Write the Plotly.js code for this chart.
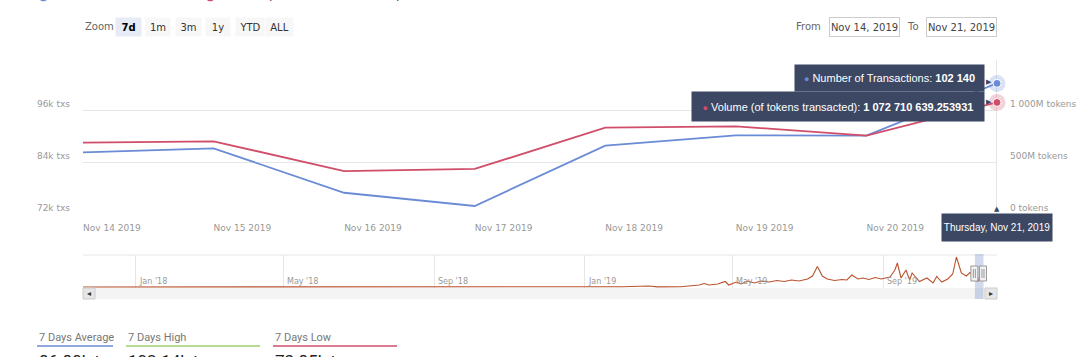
<!DOCTYPE html>
<html><head><meta charset="utf-8">
<script src="https://cdn.plot.ly/plotly-3.0.1.min.js"></script>
<style>html,body{margin:0;padding:0;background:#fff}#chart{width:1092px;height:357px}</style>
</head><body><div id="chart"></div>
<script>
// ---------- data ----------
const dates = ['2019-11-14','2019-11-15','2019-11-16','2019-11-17','2019-11-18','2019-11-19','2019-11-20','2019-11-21'];
const transactions = [86240, 87160, 76900, 73850, 87760, 90160, 90100, 102140];
const volume = [685.6e6, 699.0e6, 413.0e6, 433.0e6, 830.0e6, 843.0e6, 753.0e6, 1072710639.253931];
const txTicks = [72000, 84000, 96000];
const txTickLabels = ['72k txs', '84k txs', '96k txs'];
const volTicks = [0, 500e6, 1000e6];
const volTickLabels = ['0 tokens', '500M tokens', '1 000M tokens'];
const xTickLabels = ['Nov 14 2019','Nov 15 2019','Nov 16 2019','Nov 17 2019','Nov 18 2019','Nov 19 2019','Nov 20 2019'];
// navigator history (volume, millions of tokens)
const navDates = ['2017-11-19','2017-12-15','2018-01-10','2018-02-05','2018-03-01','2018-04-01','2018-05-01','2018-06-01','2018-07-01','2018-08-01','2018-09-01','2018-10-01','2018-11-01','2018-12-01','2019-01-01','2019-02-01','2019-02-22','2019-03-01','2019-03-20','2019-04-04','2019-04-08','2019-04-12','2019-04-19','2019-04-25','2019-04-28','2019-05-04','2019-05-08','2019-05-13','2019-05-19','2019-05-24','2019-05-31','2019-06-06','2019-06-12','2019-06-18','2019-06-24','2019-07-01','2019-07-05','2019-07-09','2019-07-13','2019-07-17','2019-07-23','2019-07-29','2019-08-02','2019-08-06','2019-08-11','2019-08-15','2019-08-20','2019-08-25','2019-08-30','2019-09-03','2019-09-06','2019-09-10','2019-09-12','2019-09-15','2019-09-19','2019-09-22','2019-09-24','2019-09-30','2019-10-06','2019-10-11','2019-10-14','2019-10-18','2019-10-23','2019-10-27','2019-10-30','2019-11-03','2019-11-07','2019-11-10'];
const navVolumeM = [5,8,12,6,10,9,14,7,11,8,12,9,10,13,9,15,70,12,20,140,245,140,210,385,140,350,210,420,280,420,350,455,385,490,420,560,770,1435,770,560,455,525,490,840,560,630,525,665,560,630,700,1190,1680,630,1190,490,980,385,630,280,735,350,560,910,2100,980,770,1015];
const navTickVals = ['2018-01-01','2018-05-01','2018-09-01','2019-01-01','2019-05-01','2019-09-01'];
const navTickLabels = ["Jan '18","May '18","Sep '18","Jan '19","May '19","Sep '19"];
const rangeButtons = ['7d','1m','3m','1y','YTD','ALL'];
const statLabels = ['7 Days Average','7 Days High','7 Days Low'];
const statValues = ['86.80k txs','102.14k txs','73.85k txs'];
const seriesNames = ['Number of Transactions','Volume (of tokens transacted)'];

// ---------- layout helpers ----------
const W = 1092, H = 357;
const PX = x => x / W;
const PY = y => (H - y) / H;
const BLUE = '#6b8bd6', RED = '#d04e6a', NAVY = '#3b4763', NAVC = '#b9532f';
const FONT = 'DejaVu Sans';
const last = dates.length - 1;

const traces = [
  {x: dates, y: transactions, type: 'scatter', mode: 'lines', line: {color: BLUE, width: 1.8}, xaxis: 'x', yaxis: 'y', hoverinfo: 'skip', name: seriesNames[0]},
  {x: dates, y: volume, type: 'scatter', mode: 'lines', line: {color: RED, width: 1.8}, xaxis: 'x', yaxis: 'y2', hoverinfo: 'skip', name: seriesNames[1]},
  {x: [dates[last]], y: [transactions[last]], type: 'scatter', mode: 'markers', marker: {size: 17, color: 'rgba(107,139,214,0.25)'}, xaxis: 'x', yaxis: 'y', hoverinfo: 'skip', cliponaxis: false},
  {x: [dates[last]], y: [transactions[last]], type: 'scatter', mode: 'markers', marker: {size: 8, color: BLUE, line: {color: '#fff', width: 1}}, xaxis: 'x', yaxis: 'y', hoverinfo: 'skip', cliponaxis: false},
  {x: [dates[last]], y: [volume[last]], type: 'scatter', mode: 'markers', marker: {size: 17, color: 'rgba(208,78,106,0.25)'}, xaxis: 'x', yaxis: 'y2', hoverinfo: 'skip', cliponaxis: false},
  {x: [dates[last]], y: [volume[last]], type: 'scatter', mode: 'markers', marker: {size: 8, color: RED, line: {color: '#fff', width: 1}}, xaxis: 'x', yaxis: 'y2', hoverinfo: 'skip', cliponaxis: false},
  {x: navDates.concat(dates), y: navVolumeM.map(v => v * 1e6).concat(volume), type: 'scatter', mode: 'lines', line: {color: NAVC, width: 1.1}, xaxis: 'x2', yaxis: 'y3', hoverinfo: 'skip'}
];

const tickFont = {family: FONT, size: 9, color: '#999'};
const annotations = [];

// range selector
annotations.push({xref: 'paper', yref: 'paper', x: PX(83), y: PY(27), xanchor: 'left', yanchor: 'middle', text: 'Zoom', showarrow: false, font: {family: FONT, size: 10, color: '#666'}});
const btnX = [115, 145, 175, 205, 235, 265];
const btnW = [25, 24, 25, 24, 28, 27];
rangeButtons.forEach((b, i) => {
  const sel = i === 0;
  annotations.push({xref: 'paper', yref: 'paper', x: PX(btnX[i]), y: PY(27), xanchor: 'left', yanchor: 'middle',
    text: sel ? '<b>' + b + '</b>' : b, showarrow: false, width: btnW[i], height: 18, borderpad: 0,
    bgcolor: sel ? '#e6ebf5' : '#f7f7f7', font: {family: FONT, size: 10, color: sel ? '#000' : '#333'}});
});
// From / To inputs
annotations.push({xref: 'paper', yref: 'paper', x: PX(823), y: PY(27), xanchor: 'right', yanchor: 'middle', text: 'From', showarrow: false, font: {family: FONT, size: 10, color: '#666'}});
annotations.push({xref: 'paper', yref: 'paper', x: PX(829), y: PY(27), xanchor: 'left', yanchor: 'middle', text: 'Nov 14, 2019', showarrow: false, width: 69, height: 18, borderpad: 0, bordercolor: '#cccccc', borderwidth: 1, bgcolor: '#fff', font: {family: FONT, size: 10, color: '#444'}});
annotations.push({xref: 'paper', yref: 'paper', x: PX(921), y: PY(27), xanchor: 'right', yanchor: 'middle', text: 'To', showarrow: false, font: {family: FONT, size: 10, color: '#666'}});
annotations.push({xref: 'paper', yref: 'paper', x: PX(926), y: PY(27), xanchor: 'left', yanchor: 'middle', text: 'Nov 21, 2019', showarrow: false, width: 69, height: 18, borderpad: 0, bordercolor: '#cccccc', borderwidth: 1, bgcolor: '#fff', font: {family: FONT, size: 10, color: '#444'}});

// cut-off legend at the top
annotations.push({xref: 'paper', yref: 'paper', x: PX(36), y: 1 + 4 / H, xanchor: 'left', yanchor: 'middle', showarrow: false,
  text: '<span style="color:' + BLUE + '">●</span> ' + seriesNames[0], font: {family: FONT, size: 12, color: '#333'}});
annotations.push({xref: 'paper', yref: 'paper', x: PX(203), y: 1 + 4 / H, xanchor: 'left', yanchor: 'middle', showarrow: false,
  text: '<span style="color:' + RED + '">●</span> ' + seriesNames[1], font: {family: FONT, size: 12, color: '#333'}});

// tooltips
const ttFont = {family: 'Liberation Sans', size: 11, color: '#fff'};
annotations.push({xref: 'x', yref: 'y', x: dates[last], y: transactions[last], xanchor: 'right', yanchor: 'middle', xshift: -12, yshift: 5,
  showarrow: false, width: 189, height: 26, borderpad: 0, bgcolor: NAVY, font: ttFont,
  text: '<span style="color:' + BLUE + ';font-size:9px">●</span> ' + seriesNames[0] + ': <b>102 140</b>'});
annotations.push({xref: 'x', yref: 'y2', x: dates[last], y: volume[last], xanchor: 'right', yanchor: 'middle', xshift: -12, yshift: -4.5,
  showarrow: false, width: 292, height: 29, borderpad: 0, bgcolor: NAVY, font: ttFont,
  text: '<span style="color:' + RED + ';font-size:9px">●</span> ' + seriesNames[1] + ': <b>1 072 710 639.253931</b>'});
annotations.push({xref: 'x', yref: 'y', x: dates[last], y: transactions[last], xanchor: 'left', yanchor: 'middle', xshift: -13, yshift: 1, showarrow: false, text: '▶', font: {size: 7, color: NAVY}});
annotations.push({xref: 'x', yref: 'y2', x: dates[last], y: volume[last], xanchor: 'left', yanchor: 'middle', xshift: -13, yshift: 0, showarrow: false, text: '▶', font: {size: 7, color: NAVY}});
// date tooltip
annotations.push({xref: 'x', yref: 'paper', x: dates[last], y: PY(213), xanchor: 'center', yanchor: 'top', showarrow: false,
  width: 110, height: 27, borderpad: 0, bgcolor: NAVY, text: 'Thursday, Nov 21, 2019', font: {family: 'Liberation Sans', size: 10, color: '#fff'}});
annotations.push({xref: 'x', yref: 'paper', x: dates[last], y: PY(213), xanchor: 'center', yanchor: 'bottom', yshift: -2, showarrow: false, text: '▲', font: {size: 7, color: NAVY}});

// navigator axis labels
navTickVals.forEach((d, i) => {
  annotations.push({xref: 'x2', yref: 'paper', x: d, y: PY(281.5), xanchor: 'left', yanchor: 'middle', xshift: 1, showarrow: false,
    text: navTickLabels[i], font: {family: FONT, size: 8, color: '#999'}});
});

// scrollbar arrows
annotations.push({xref: 'paper', yref: 'paper', x: PX(89), y: PY(293.5), xanchor: 'center', yanchor: 'middle', showarrow: false, text: '◂', font: {size: 8, color: '#333'}});
annotations.push({xref: 'paper', yref: 'paper', x: PX(991), y: PY(293.5), xanchor: 'center', yanchor: 'middle', showarrow: false, text: '▸', font: {size: 8, color: '#333'}});

// bottom stats
const statX = [37, 126, 273];
const statLineEnd = [113, 260, 397];
const statColors = [BLUE, '#9fd16b', RED];
const shapes = [];
statLabels.forEach((s, i) => {
  annotations.push({xref: 'paper', yref: 'paper', x: PX(statX[i]), y: PY(337), xanchor: 'left', yanchor: 'middle', showarrow: false, text: s, font: {family: 'Roboto', size: 11, color: '#777'}});
  annotations.push({xref: 'paper', yref: 'paper', x: PX(statX[i]), y: PY(361), xanchor: 'left', yanchor: 'middle', showarrow: false, text: statValues[i], font: {family: 'Roboto', size: 17, color: '#222'}});
  shapes.push({type: 'line', xref: 'paper', yref: 'paper', x0: PX(statX[i]), x1: PX(statLineEnd[i]), y0: PY(346), y1: PY(346), line: {color: statColors[i], width: 1.5}});
});

// crosshair
shapes.push({type: 'line', xref: 'x', yref: 'paper', x0: dates[last], x1: dates[last], y0: PY(214), y1: PY(60), line: {color: '#cccccc', width: 1}, layer: 'below'});
// navigator frame + scrollbar
shapes.push({type: 'line', xref: 'paper', yref: 'paper', x0: PX(83), x1: PX(997), y0: PY(255), y1: PY(255), line: {color: '#e6e6e6', width: 1}});
shapes.push({type: 'rect', xref: 'paper', yref: 'paper', x0: PX(83), x1: PX(997), y0: PY(299), y1: PY(288), fillcolor: '#f4f4f4', line: {width: 0}});
shapes.push({type: 'rect', xref: 'paper', yref: 'paper', x0: PX(83), x1: PX(95), y0: PY(299), y1: PY(288), fillcolor: '#e6e6e6', line: {color: '#cccccc', width: 1}});
shapes.push({type: 'rect', xref: 'paper', yref: 'paper', x0: PX(985), x1: PX(997), y0: PY(299), y1: PY(288), fillcolor: '#e6e6e6', line: {color: '#cccccc', width: 1}});
shapes.push({type: 'rect', xref: 'x2', yref: 'paper', x0: dates[0], x1: dates[last], y0: PY(299), y1: PY(254), fillcolor: 'rgba(102,133,194,0.3)', line: {width: 0}});
[dates[0], dates[last]].forEach(d => {
  shapes.push({type: 'rect', xref: 'x2', yref: 'paper', xsizemode: 'pixel', xanchor: d, x0: -4, x1: 3, y0: PY(281), y1: PY(266), fillcolor: '#f2f2f2', line: {color: '#999', width: 1}});
  shapes.push({type: 'line', xref: 'x2', yref: 'paper', xsizemode: 'pixel', xanchor: d, x0: -1.5, x1: -1.5, y0: PY(278), y1: PY(269), line: {color: '#999', width: 1}});
  shapes.push({type: 'line', xref: 'x2', yref: 'paper', xsizemode: 'pixel', xanchor: d, x0: 0.5, x1: 0.5, y0: PY(278), y1: PY(269), line: {color: '#999', width: 1}});
});

const layout = {
  width: W, height: H,
  margin: {l: 0, r: 0, t: 0, b: 0, pad: 0},
  paper_bgcolor: '#fff', plot_bgcolor: 'rgba(0,0,0,0)',
  showlegend: false,
  font: {family: FONT},
  xaxis: {type: 'date', domain: [PX(83), PX(997)], range: [dates[0], dates[last]], anchor: 'y',
    tickvals: dates.slice(0, xTickLabels.length), ticktext: xTickLabels, ticklabelposition: 'outside right', ticklabelstandoff: 7,
    showgrid: false, zeroline: false, showline: false, ticks: '', tickfont: tickFont, fixedrange: true},
  yaxis: {domain: [PY(214), PY(60)], range: [72000, 72000 + 154 * 12000 / 52], tickvals: txTicks, ticktext: txTickLabels,
    ticklabelposition: 'outside top', gridcolor: '#e6e6e6', gridwidth: 1, zeroline: false, showline: false, ticks: '', tickfont: tickFont, ticklabelstandoff: 12},
  yaxis2: {overlaying: 'y', side: 'right', anchor: 'x', range: [0, 154 * 500e6 / 52], tickvals: volTicks, ticktext: volTickLabels,
    ticklabelposition: 'outside top', showgrid: false, zeroline: false, showline: false, ticks: '', tickfont: tickFont, ticklabelstandoff: 12},
  xaxis2: {type: 'date', domain: [PX(83), PX(997)], range: ['2017-11-19', '2019-12-02'], anchor: 'y3',
    tickvals: navTickVals, showticklabels: false, showgrid: true, gridcolor: '#e6e6e6',
    zeroline: false, showline: false, ticks: ''},
  yaxis3: {domain: [PY(288), PY(255)], range: [-70e6, 2240e6], showgrid: false, zeroline: false, showticklabels: false, showline: false, anchor: 'x2'},
  annotations: annotations,
  shapes: shapes
};

Plotly.newPlot('chart', traces, layout, {displayModeBar: false, staticPlot: true});
</script>
</body></html>
